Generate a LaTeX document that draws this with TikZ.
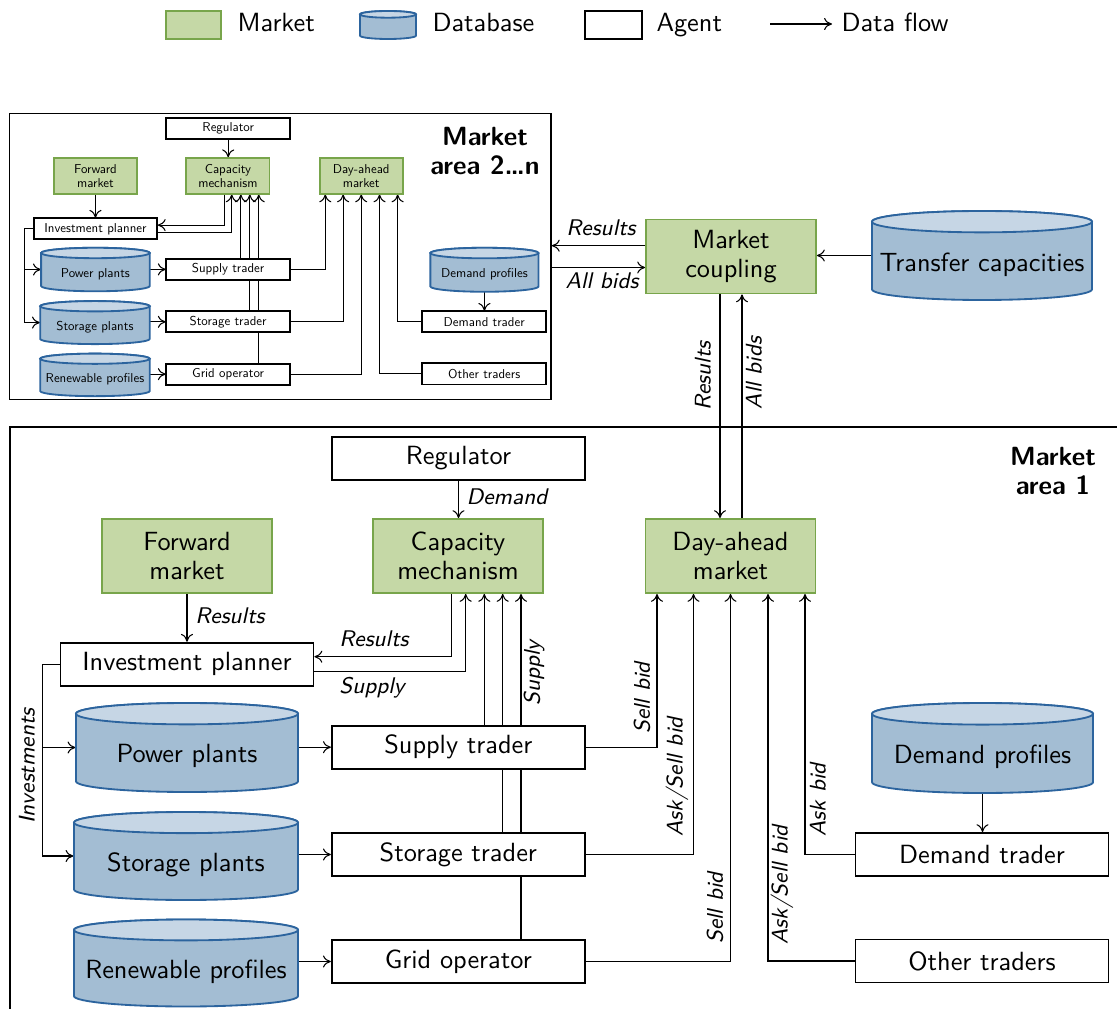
\documentclass[tikz,border=0pt]{standalone}
\usetikzlibrary{arrows.meta}
\renewcommand\familydefault{\sfdefault}
\definecolor{mfill}{RGB}{197,216,166}
\definecolor{mdraw}{RGB}{120,165,75}
\definecolor{dbfill}{RGB}{163,189,211}
\definecolor{dbtopc}{RGB}{198,214,229}
\definecolor{dbdraw}{RGB}{44,100,158}
\pgfdeclarelayer{bg}
\pgfsetlayers{bg,main}
\tikzset{
  sz/.style 2 args={minimum width=#1*0.38pt, minimum height=#2*0.38pt},
  agent/.style={draw, fill=white, line width=0.7pt, inner sep=0pt, sz={253}{43}},
  market/.style={draw=mdraw, fill=mfill, line width=0.7pt, inner sep=0pt, sz={170}{74},
    align=center, font=\fontsize{10}{11}\selectfont},
  dbbody/.style={fill=dbfill, draw=dbdraw, line width=0.7pt},
  dbtop/.style={fill=dbtopc, draw=dbdraw, line width=0.7pt},
  dbnode/.style 2 args={inner sep=0pt, sz={#1}{#2}},
  dbtext/.style={inner sep=0pt},
  conn/.style={line width=0.4pt, -{To[length=3pt,width=4.6pt]}},
  elab/.style={font=\fontsize{8.6}{10}\selectfont\itshape, inner sep=1pt},
  rot/.style={rotate=90},
  frame/.style={draw, line width=0.6pt, inner sep=0pt},
  ttl/.style={font=\fontsize{10}{11}\selectfont\bfseries, align=center},
  lgtext/.style={anchor=base west, inner sep=0pt}
}
% name, cx, cy (px, downwards), w, h, text
\newcommand\dbcyl[6]{%
  \pgfmathsetmacro\cxL{#2-#4/2}%
  \pgfmathsetmacro\cxR{#2+#4/2}%
  \pgfmathsetmacro\cyry{0.12*#5}%
  \pgfmathsetmacro\cyrx{#4/2}%
  \pgfmathsetmacro\yT{-(#3)+#5/2-\cyry}%
  \pgfmathsetmacro\yB{-(#3)-#5/2+\cyry}%
  \path[dbbody] (\cxL,\yT) -- (\cxL,\yB)
     arc[start angle=180, end angle=360, x radius=\cyrx, y radius=\cyry]
     -- (\cxR,\yT)
     arc[start angle=0, end angle=180, x radius=\cyrx, y radius=\cyry] -- cycle;
  \path[dbtop] (#2,\yT) ellipse[x radius=\cyrx, y radius=\cyry];
  \node[dbnode={#4}{#5}] (#1) at (#2,-#3) {};
  \if\relax\detokenize{#6}\relax\else
  \node[dbtext] (#1-t) at (#2,{-(#3)-0.1*#5}) {#6};
  \fi
}
\newcommand\DiagBody{%
  \node[agent] (reg) at (458.5,-458.5) {Regulator};
  \node[market] (fwd) at (187,-556) {Forward\\market};
  \node[market] (cap) at (458,-556) {Capacity\\mechanism};
  \node[market] (da) at (730.5,-556) {Day-ahead\\market};
  \node[agent] (inv) at (187,-664.2) {Investment planner};
  \node[agent] (st) at (458.3,-747.2) {Supply trader};
  \node[agent] (sto) at (458.3,-854.5) {Storage trader};
  \node[agent] (grid) at (458.3,-961.5) {Grid operator};
  \node[agent] (dt) at (982,-854.5) {Demand trader};
  \node[agent] (ot) at (982,-961) {Other traders};
  \dbcyl{pp}{187}{747.5}{222}{89}{Power plants}
  \dbcyl{sp}{186}{856}{224}{88}{Storage plants}
  \dbcyl{rp}{186}{963}{224}{87}{Renewable profiles}
  \dbcyl{dp}{982.5}{748}{221}{90}{Demand profiles}
  \begin{pgfonlayer}{bg}
    \draw[conn] (reg.south) -- (reg.south |- cap.north);
    \draw[conn] (fwd.south) -- (fwd.south |- inv.north);
    \draw[conn] (451.7,0 |- cap.south) |- (inv.east |- 0,-656.7);
    \draw[conn] (inv.east |- 0,-671.7) -| (465.7,0 |- cap.south);
    \draw[conn] (484.3,0 |- st.north) -- (484.3,0 |- cap.south);
    \draw[conn] (502.7,0 |- sto.north) -- (502.7,0 |- cap.south);
    \draw[conn] (521,0 |- grid.north) -- (521,0 |- cap.south);
    \draw[conn] (st.east) -| (657,0 |- da.south);
    \draw[conn] (sto.east) -| (693.5,0 |- da.south);
    \draw[conn] (grid.east) -| (730.5,0 |- da.south);
    \draw[conn] (ot.west) -| (768,0 |- da.south);
    \draw[conn] (dt.west) -| (805,0 |- da.south);
    \draw[conn] (dp.south) -- (dp.south |- dt.north);
    \draw[conn] (inv.west) -| (42.7,0 |- sp.west) -- (sp.west);
    \draw[conn] (42.7,0 |- pp.west) -- (pp.west);
    \draw[conn] (pp.east |- st.west) -- (st.west);
    \draw[conn] (sp.east |- sto.west) -- (sto.west);
    \draw[conn] (rp.east |- grid.west) -- (grid.west);
  \end{pgfonlayer}
}
\begin{document}
\begin{tikzpicture}[x=0.38pt, y=0.38pt]
  \useasboundingbox (0,0) rectangle (1117,-1009);
  \clip (0,0) rectangle (1117,-1009);

  % legend
  \node[market, sz={55}{28}] (lgm) at (193.5,-25) {};
  \node[lgtext] (lgmt) at (237,-32) {Market};
  \dbcyl{lgdb}{388}{25}{56}{28}{}
  \node[lgtext] (lgdbt) at (432,-32) {Database};
  \node[agent, sz={57}{28}] (lga) at (613.5,-25) {};
  \node[lgtext] (lgat) at (656,-32) {Agent};
  \coordinate (la1) at (770,-24);
  \coordinate (la2) at (832,-24);
  \draw[conn] (la1) -- (la2);
  \node[lgtext] (lgft) at (841,-32) {Data flow};

  % frames
  \node[frame, sz={541.5}{286}] (f2) at (280.25,-256.5) {};
  \node[frame, sz={1120}{610}] (f1) at (570,-732) {};
  \node[ttl] (t2) at (485,-151) {Market\\area 2{\textellipsis}n};
  \node[ttl] (t1) at (1053,-471) {Market\\area 1};

  % lower diagram
  \begin{scope}[name prefix=L-]
    \DiagBody
  \end{scope}
  % inset diagram
  \begin{scope}[name prefix=I-, shift={(4,96)}, scale=0.489, transform shape]
    \DiagBody
  \end{scope}

  % market coupling
  \node[market] (mc) at (731,-256.5) {Market\\coupling};
  \dbcyl{tc}{982}{255.5}{220}{89}{Transfer capacities}
  \draw[conn] (tc.west) -- (tc.west -| mc.east);
  \draw[conn] (mc.west |- 0,-245.7) -- (f2.east |- 0,-245.7);
  \draw[conn] (f2.east |- 0,-267.5) -- (mc.west |- 0,-267.5);
  \draw[conn] (720,0 |- mc.south) -- (720,0 |- L-da.north);
  \draw[conn] (742,0 |- L-da.north) -- (742,0 |- mc.south);

  % labels (lower diagram only)
  \node[elab] (lb1) at (601,-228) {Results};
  \node[elab] (lb2) at (602,-281) {All bids};
  \node[elab, rot] (lb3) at (703,-376) {Results};
  \node[elab, rot] (lb4) at (754,-373) {All bids};
  \node[elab] (lb5) at (507,-497) {Demand};
  \node[elab] (lb6) at (230,-616) {Results};
  \node[elab] (lb7) at (374,-639) {Results};
  \node[elab] (lb8) at (372,-688) {Supply};
  \node[elab, rot] (lb9) at (534,-673) {Supply};
  \node[elab, rot] (lb10) at (642,-698) {Sell bid};
  \node[elab, rot] (lb11) at (677,-777) {Ask/Sell bid};
  \node[elab, rot] (lb12) at (715,-908) {Sell bid};
  \node[elab, rot] (lb13) at (782,-885) {Ask/Sell bid};
  \node[elab, rot] (lb14) at (818,-800) {Ask bid};
  \node[elab, rot] (lb15) at (27,-766) {Investments};
\end{tikzpicture}
\end{document}
